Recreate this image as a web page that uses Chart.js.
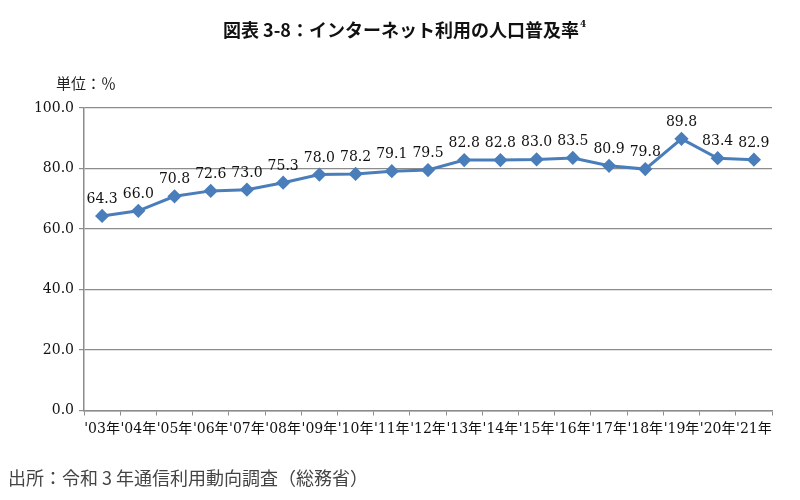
<!DOCTYPE html>
<html>
<head>
<meta charset="utf-8">
<script src="https://cdn.jsdelivr.net/npm/chart.js@4"></script>
<style>
  html, body { margin: 0; padding: 0; background: #fff; }
  #wrap { width: 800px; height: 500px; position: relative; }
</style>
</head>
<body>
<div id="wrap"><canvas id="chart" width="800" height="500"></canvas></div>
<script>
// Chart data
const years = ["'03年", "'04年", "'05年", "'06年", "'07年", "'08年", "'09年", "'10年", "'11年", "'12年",
               "'13年", "'14年", "'15年", "'16年", "'17年", "'18年", "'19年", "'20年", "'21年"];
const rates = [64.3, 66.0, 70.8, 72.6, 73.0, 75.3, 78.0, 78.2, 79.1, 79.5,
               82.8, 82.8, 83.0, 83.5, 80.9, 79.8, 89.8, 83.4, 82.9];
const yTicks = [0, 20, 40, 60, 80, 100];

const titleText = '図表 3-8：インターネット利用の人口普及率';
const unitText = '単位：％';
const sourceText = '出所：令和 3 年通信利用動向調査（総務省）';

const serif = '"DejaVu Serif", "Liberation Serif", "Noto Sans CJK JP", serif';
const cjk = '"Noto Sans CJK JP", sans-serif';
const blue = '#4a7ebb';
const gridGray = '#8c8c8c';

// Draws the title, unit note, source line and value labels
const textPlugin = {
    id: 'texts',
    afterDatasetsDraw(chart) {
        const ctx = chart.ctx;
        ctx.save();

        // value labels above each point
        ctx.font = '14px ' + serif;
        ctx.fillStyle = '#111';
        ctx.textAlign = 'center';
        ctx.textBaseline = 'alphabetic';
        chart.getDatasetMeta(0).data.forEach((pt, i) => {
            ctx.fillText(rates[i].toFixed(1), pt.x, pt.y - 13);
        });

        // title with superscript footnote mark
        ctx.font = 'bold 18px ' + cjk;
        ctx.fillStyle = '#111';
        ctx.textAlign = 'left';
        ctx.textBaseline = 'middle';
        const tw = ctx.measureText(titleText).width;
        const tx = 404 - (tw + 6) / 2;
        ctx.fillText(titleText, tx, 30);
        ctx.font = 'bold 9px ' + serif;
        ctx.fillText('4', tx + tw + 1, 25);

        // unit note
        ctx.font = '15px ' + cjk;
        ctx.fillStyle = '#222';
        ctx.fillText(unitText, 56, 83);

        // source
        ctx.font = '18px ' + cjk;
        ctx.fillStyle = '#444';
        ctx.fillText(sourceText, 8, 478);

        ctx.restore();
    }
};

const ctx = document.getElementById('chart').getContext('2d');
new Chart(ctx, {
    type: 'line',
    data: {
        labels: years,
        datasets: [{
            data: rates,
            borderColor: blue,
            backgroundColor: blue,
            borderWidth: 3,
            pointStyle: 'rectRot',
            pointRadius: 5,
            pointHoverRadius: 5,
            pointBackgroundColor: blue,
            pointBorderColor: blue,
            tension: 0,
            clip: false
        }]
    },
    options: {
        responsive: false,
        animation: false,
        layout: { padding: { top: 108, right: 28, left: 0, bottom: 0 } },
        plugins: {
            legend: { display: false },
            title: { display: false },
            tooltip: { enabled: false }
        },
        scales: {
            x: {
                offset: true,
                afterFit: (scale) => { scale.height = 89.5; },
                grid: {
                    offset: true,
                    drawOnChartArea: false,
                    drawTicks: true,
                    tickLength: 5,
                    color: gridGray
                },
                border: { color: gridGray, width: 1.5 },
                ticks: {
                    autoSkip: false,
                    maxRotation: 0,
                    minRotation: 0,
                    padding: 5,
                    color: '#111',
                    font: { size: 14, family: serif }
                }
            },
            y: {
                min: 0,
                max: 100,
                afterFit: (scale) => { scale.width = 84; },
                afterBuildTicks: (scale) => { scale.ticks = yTicks.map(v => ({ value: v })); },
                grid: {
                    color: gridGray,
                    lineWidth: 1.2,
                    tickLength: 5
                },
                border: { color: gridGray, width: 1.5 },
                ticks: {
                    padding: 5,
                    color: '#111',
                    font: { size: 14, family: serif },
                    callback: (v) => Number(v).toFixed(1)
                }
            }
        }
    },
    plugins: [textPlugin]
});
</script>
</body>
</html>
